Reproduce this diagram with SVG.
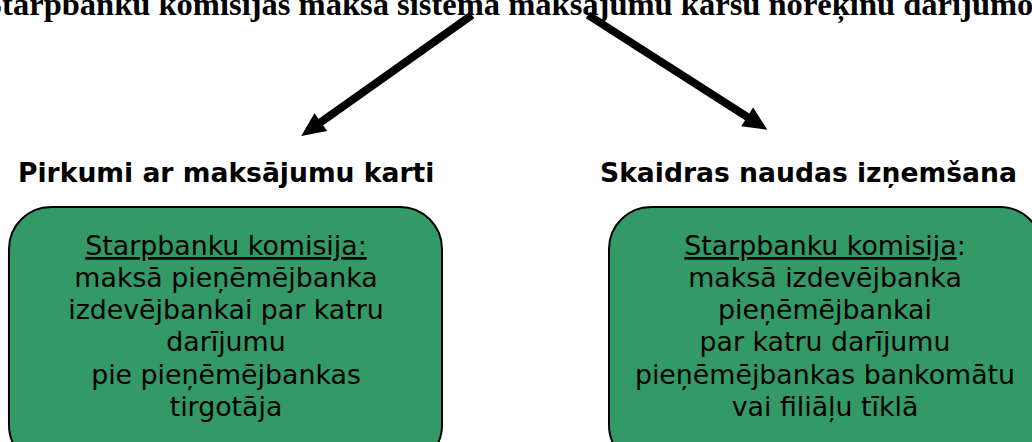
<svg xmlns="http://www.w3.org/2000/svg" width="1032" height="442" viewBox="0 0 1032 442">
<style>
.title{font-family:"Liberation Serif","Times New Roman",serif;font-weight:bold;font-size:32px;fill:#000}
.head{font-family:"DejaVu Sans",Verdana,sans-serif;font-weight:bold;font-size:26.6px;fill:#000}
.body{font-family:"DejaVu Sans",Verdana,sans-serif;font-size:26.8px;fill:#000;text-anchor:middle}
.box{fill:#339966;stroke:#000;stroke-width:2}
.conn{stroke:#000;stroke-width:8;fill:none}
.u{text-decoration:underline}
</style>
<defs>
<marker id="ah" markerUnits="userSpaceOnUse" markerWidth="26" markerHeight="24" refX="1" refY="11" orient="auto" overflow="visible">
<path d="M0,0 L24,11 L0,22 Z" fill="#000"/>
</marker>
</defs>
<text id="title" class="title" x="-16" y="15" textLength="1062" lengthAdjust="spacingAndGlyphs">Starpbanku komisijas maksa sistēmā maksājumu karšu norēķinu darījumos</text>
<g id="connectors">
<line class="conn" x1="472" y1="15" x2="320" y2="122.7" marker-end="url(#ah)"/>
<line class="conn" x1="588" y1="15" x2="748" y2="117.4" marker-end="url(#ah)"/>
</g>
<g id="node-left">
<text class="head" x="18" y="182">Pirkumi ar maksājumu karti</text>
<rect class="box" x="9" y="207" width="433" height="260" rx="42" ry="42"/>
<text class="body" x="226" y="255"><tspan class="u">Starpbanku komisija:</tspan></text>
<text class="body" x="226" y="287">maksā pieņēmējbanka</text>
<text class="body" x="226" y="319">izdevējbankai par katru</text>
<text class="body" x="226" y="351">darījumu</text>
<text class="body" x="226" y="384">pie pieņēmējbankas</text>
<text class="body" x="226" y="416">tirgotāja</text>
</g>
<g id="node-right">
<text class="head" x="600" y="182">Skaidras naudas izņemšana</text>
<rect class="box" x="609" y="207" width="433" height="260" rx="42" ry="42"/>
<text class="body" x="825" y="255"><tspan class="u">Starpbanku komisija</tspan>:</text>
<text class="body" x="825" y="287">maksā izdevējbanka</text>
<text class="body" x="825" y="319">pieņēmējbankai</text>
<text class="body" x="825" y="351">par katru darījumu</text>
<text class="body" x="825" y="384">pieņēmējbankas bankomātu</text>
<text class="body" x="825" y="416">vai filiāļu tīklā</text>
</g>
</svg>
